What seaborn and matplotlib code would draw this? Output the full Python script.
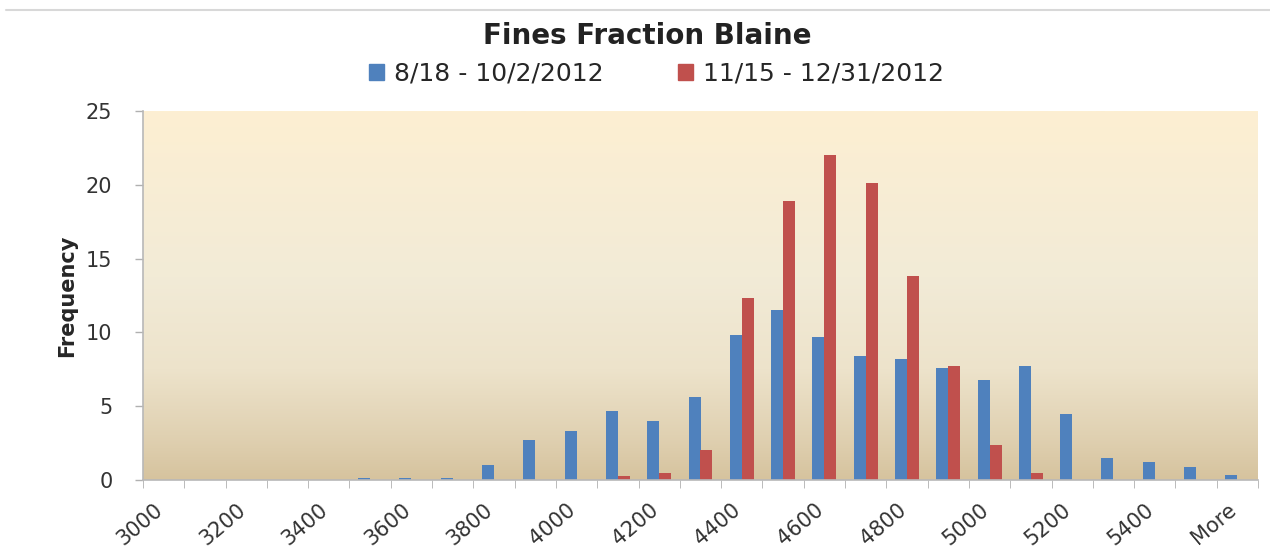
import numpy as np
import pandas as pd
import matplotlib
matplotlib.use('Agg')
import matplotlib.pyplot as plt
import matplotlib.transforms as mtransforms
import seaborn as sns
from matplotlib.colors import LinearSegmentedColormap
from matplotlib.lines import Line2D

# Histogram bins (Excel style: upper bin edges, every 100) plus "More"
bins = [str(b) for b in range(3000, 5600, 100)] + ['More']
series_a = '8/18 - 10/2/2012'
series_b = '11/15 - 12/31/2012'

freq_a = [0, 0, 0, 0, 0, 0.15, 0.15, 0.15, 1.0, 2.7, 3.3, 4.7, 4.0, 5.65,
          9.8, 11.5, 9.7, 8.4, 8.2, 7.6, 6.8, 7.75, 4.5, 1.5, 1.2, 0.85, 0.35]
freq_b = [0, 0, 0, 0, 0, 0, 0, 0, 0, 0, 0, 0.25, 0.5, 2.0,
          12.3, 18.9, 22.0, 20.1, 13.8, 7.75, 2.4, 0.45, 0, 0, 0, 0, 0]

df = pd.DataFrame({
    'Bin': bins * 2,
    'Frequency': freq_a + freq_b,
    'Period': [series_a] * len(bins) + [series_b] * len(bins),
})

sns.set_style('white')
plt.rcParams['font.family'] = ['DejaVu Sans']

fig = plt.figure(figsize=(12.7, 5.52), dpi=100)
ax = fig.add_axes([143 / 1270, 1 - 480 / 552, 1115 / 1270, 369 / 552])

# gradient plot background
grad = LinearSegmentedColormap.from_list(
    'bg', [(0.0, '#D6C39E'), (0.12, '#E0D1B2'), (0.3, '#EDE3CB'),
           (0.55, '#F2EBD7'), (1.0, '#FDEFD2')])
ax.imshow(np.linspace(0, 1, 256).reshape(-1, 1), aspect='auto', cmap=grad,
          origin='lower', extent=[0, 1, 0, 1], transform=ax.transAxes, zorder=0)

sns.barplot(data=df, x='Bin', y='Frequency', hue='Period',
            palette=['#4F81BD', '#C0504D'], width=0.58, saturation=1,
            linewidth=0, ax=ax, legend=False, zorder=2)

ax.set_xlim(-0.5, len(bins) - 0.5)
ax.set_ylim(0, 25)
ax.set_yticks([0, 5, 10, 15, 20, 25])
ax.tick_params(axis='y', labelsize=15, labelcolor='#333333', color='#b0b0b0',
               length=6, width=1, direction='out', left=True, pad=16)

# x labels every other bin, tick marks at bin boundaries
major = list(range(0, len(bins), 2))
ax.set_xticks(major)
ax.set_xticklabels([bins[i] for i in major], rotation=40, ha='right',
                   rotation_mode='anchor', fontsize=15, color='#333333')
ax.tick_params(axis='x', length=0, pad=14)
shift = mtransforms.ScaledTranslation(-10 / 100, 0, fig.dpi_scale_trans)
for lbl in ax.get_xticklabels():
    lbl.set_transform(lbl.get_transform() + shift)
ax.set_xticks(np.arange(-0.5, len(bins), 1), minor=True)
ax.tick_params(axis='x', which='minor', length=6, color='#b0b0b0',
               direction='out', bottom=True)

for side in ['top', 'right']:
    ax.spines[side].set_visible(False)
for side in ['left', 'bottom']:
    ax.spines[side].set_color('#b8b8b8')
    ax.spines[side].set_linewidth(1.2)

ax.set_xlabel('')
ax.set_ylabel('Frequency', fontsize=15, fontweight='bold', labelpad=6)

fig.text(0.51, 0.935, 'Fines Fraction Blaine', ha='center', va='center',
         fontsize=20, fontweight='bold', color='#222222')

handles = [plt.Rectangle((0, 0), 1, 1, color='#4F81BD'),
           plt.Rectangle((0, 0), 1, 1, color='#C0504D')]
fig.legend(handles, [series_a, series_b], loc='center',
           bbox_to_anchor=(0.517, 0.866), ncol=2, frameon=False,
           fontsize=18, handlelength=0.6, handleheight=0.6,
           handletextpad=0.4, columnspacing=3.0)

fig.add_artist(Line2D([0.005, 1.0], [1 - 10 / 552] * 2,
                      color='#d8d8d8', linewidth=1.5))

fig.savefig('out.png', dpi=100, facecolor='white')
